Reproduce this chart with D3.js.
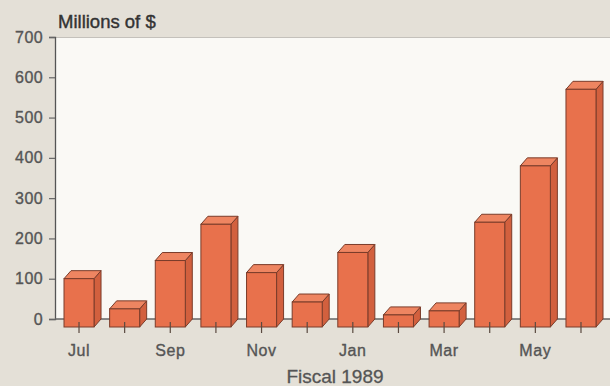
<!DOCTYPE html>
<html>
<head>
<meta charset="utf-8">
<script src="https://cdn.jsdelivr.net/npm/d3@7"></script>
<style>
  html, body { margin: 0; padding: 0; background: #e5e1d8; }
  svg { display: block; }
  text { font-family: "Liberation Sans", Arial, Helvetica, sans-serif; }
</style>
</head>
<body>
<svg id="chart" width="610" height="386"></svg>
<script>
// Monthly amounts, fiscal year 1989 (millions of dollars)
const months = ["Jul", "Aug", "Sep", "Oct", "Nov", "Dec", "Jan", "Feb", "Mar", "Apr", "May", "Jun"];
const values = [120, 45, 165, 255, 135, 62, 185, 30, 40, 260, 400, 590];
const labeledMonths = ["Jul", "Sep", "Nov", "Jan", "Mar", "May"];
const yTicks = [0, 100, 200, 300, 400, 500, 600, 700];

const W = 610, H = 386;
const plot = { left: 55, top: 37, right: 610, bottom: 319 };
const depth = { dx: 7, dy: 8 };

const svg = d3.select("#chart");

// paper background and white plotting field
svg.append("rect").attr("width", W).attr("height", H).attr("fill", "#e4e0d7");
svg.append("rect")
  .attr("x", plot.left).attr("y", plot.top)
  .attr("width", plot.right - plot.left).attr("height", plot.bottom - plot.top)
  .attr("fill", "#faf9f5");
svg.append("line")
  .attr("x1", plot.left).attr("x2", plot.right)
  .attr("y1", plot.top + 0.5).attr("y2", plot.top + 0.5)
  .attr("stroke", "#c4c1bb").attr("stroke-width", 1);

const y = d3.scaleLinear().domain([0, 700]).range([plot.bottom, plot.top]);
const x = d3.scaleBand().domain(months).range([64, 596]).paddingInner(0.342).paddingOuter(0);

// y axis
const yAxis = d3.axisLeft(y).tickValues(yTicks).tickSize(6).tickPadding(6);
const gy = svg.append("g").attr("transform", `translate(${plot.left},0)`).call(yAxis);
gy.select(".domain").attr("stroke", "#555").attr("stroke-width", 1.3);
gy.selectAll(".tick line").attr("stroke", "#666").attr("stroke-width", 1.2);
gy.selectAll(".tick text")
  .attr("fill", "#555").attr("font-size", 16).attr("letter-spacing", 0.4)
  .attr("stroke", "#555").attr("stroke-width", 0.35)
  .attr("font-family", "'Liberation Sans', Arial, sans-serif");

// baseline
svg.append("line")
  .attr("x1", plot.left).attr("x2", plot.right)
  .attr("y1", y(0)).attr("y2", y(0))
  .attr("stroke", "#666").attr("stroke-width", 1.5);

// 3-D bars: front face, side and top, back plane resting on the baseline
const bars = svg.append("g").selectAll("g.bar")
  .data(months.map((m, i) => ({ month: m, value: values[i] })))
  .join("g").attr("class", "bar");

const stroke = "#7a3c2a";
bars.append("polygon") // right side
  .attr("points", d => {
    const x0 = x(d.month) + x.bandwidth();
    const yt = y(d.value) + depth.dy, yb = y(0) + depth.dy;
    return [[x0, yt], [x0 + depth.dx, yt - depth.dy], [x0 + depth.dx, yb - depth.dy], [x0, yb]].join(" ");
  })
  .attr("fill", "#d2603e").attr("stroke", stroke).attr("stroke-width", 1).attr("stroke-linejoin", "round");

bars.append("polygon") // top
  .attr("points", d => {
    const x0 = x(d.month), x1 = x0 + x.bandwidth();
    const yt = y(d.value) + depth.dy;
    return [[x0, yt], [x0 + depth.dx, yt - depth.dy], [x1 + depth.dx, yt - depth.dy], [x1, yt]].join(" ");
  })
  .attr("fill", "#ee8561").attr("stroke", stroke).attr("stroke-width", 1).attr("stroke-linejoin", "round");

bars.append("rect") // front
  .attr("x", d => x(d.month))
  .attr("y", d => y(d.value) + depth.dy)
  .attr("width", x.bandwidth())
  .attr("height", d => y(0) - y(d.value))
  .attr("fill", "#e8714c").attr("stroke", stroke).attr("stroke-width", 1);

// month axis: tick on every bar, label on alternate months
const xAxis = d3.axisBottom(x)
  .tickSize(11).tickPadding(12)
  .tickFormat(m => labeledMonths.includes(m) ? m : "");
const gx = svg.append("g").attr("transform", `translate(0,${y(0) + 3})`).call(xAxis);
gx.select(".domain").remove();
gx.selectAll(".tick line").attr("stroke", "#5a4a40").attr("stroke-width", 1.2);
gx.selectAll(".tick text")
  .attr("fill", "#555").attr("font-size", 16).attr("letter-spacing", 0.6)
  .attr("stroke", "#555").attr("stroke-width", 0.35)
  .attr("font-family", "'Liberation Sans', Arial, sans-serif");

// titles
svg.append("text")
  .attr("x", 58).attr("y", 28)
  .attr("fill", "#333").attr("stroke", "#333").attr("stroke-width", 0.4)
  .attr("font-size", 18.5)
  .text("Millions of $");

svg.append("text")
  .attr("x", 335).attr("y", 383)
  .attr("text-anchor", "middle")
  .attr("fill", "#555").attr("stroke", "#555").attr("stroke-width", 0.3)
  .attr("font-size", 19)
  .text("Fiscal 1989");
</script>
</body>
</html>
